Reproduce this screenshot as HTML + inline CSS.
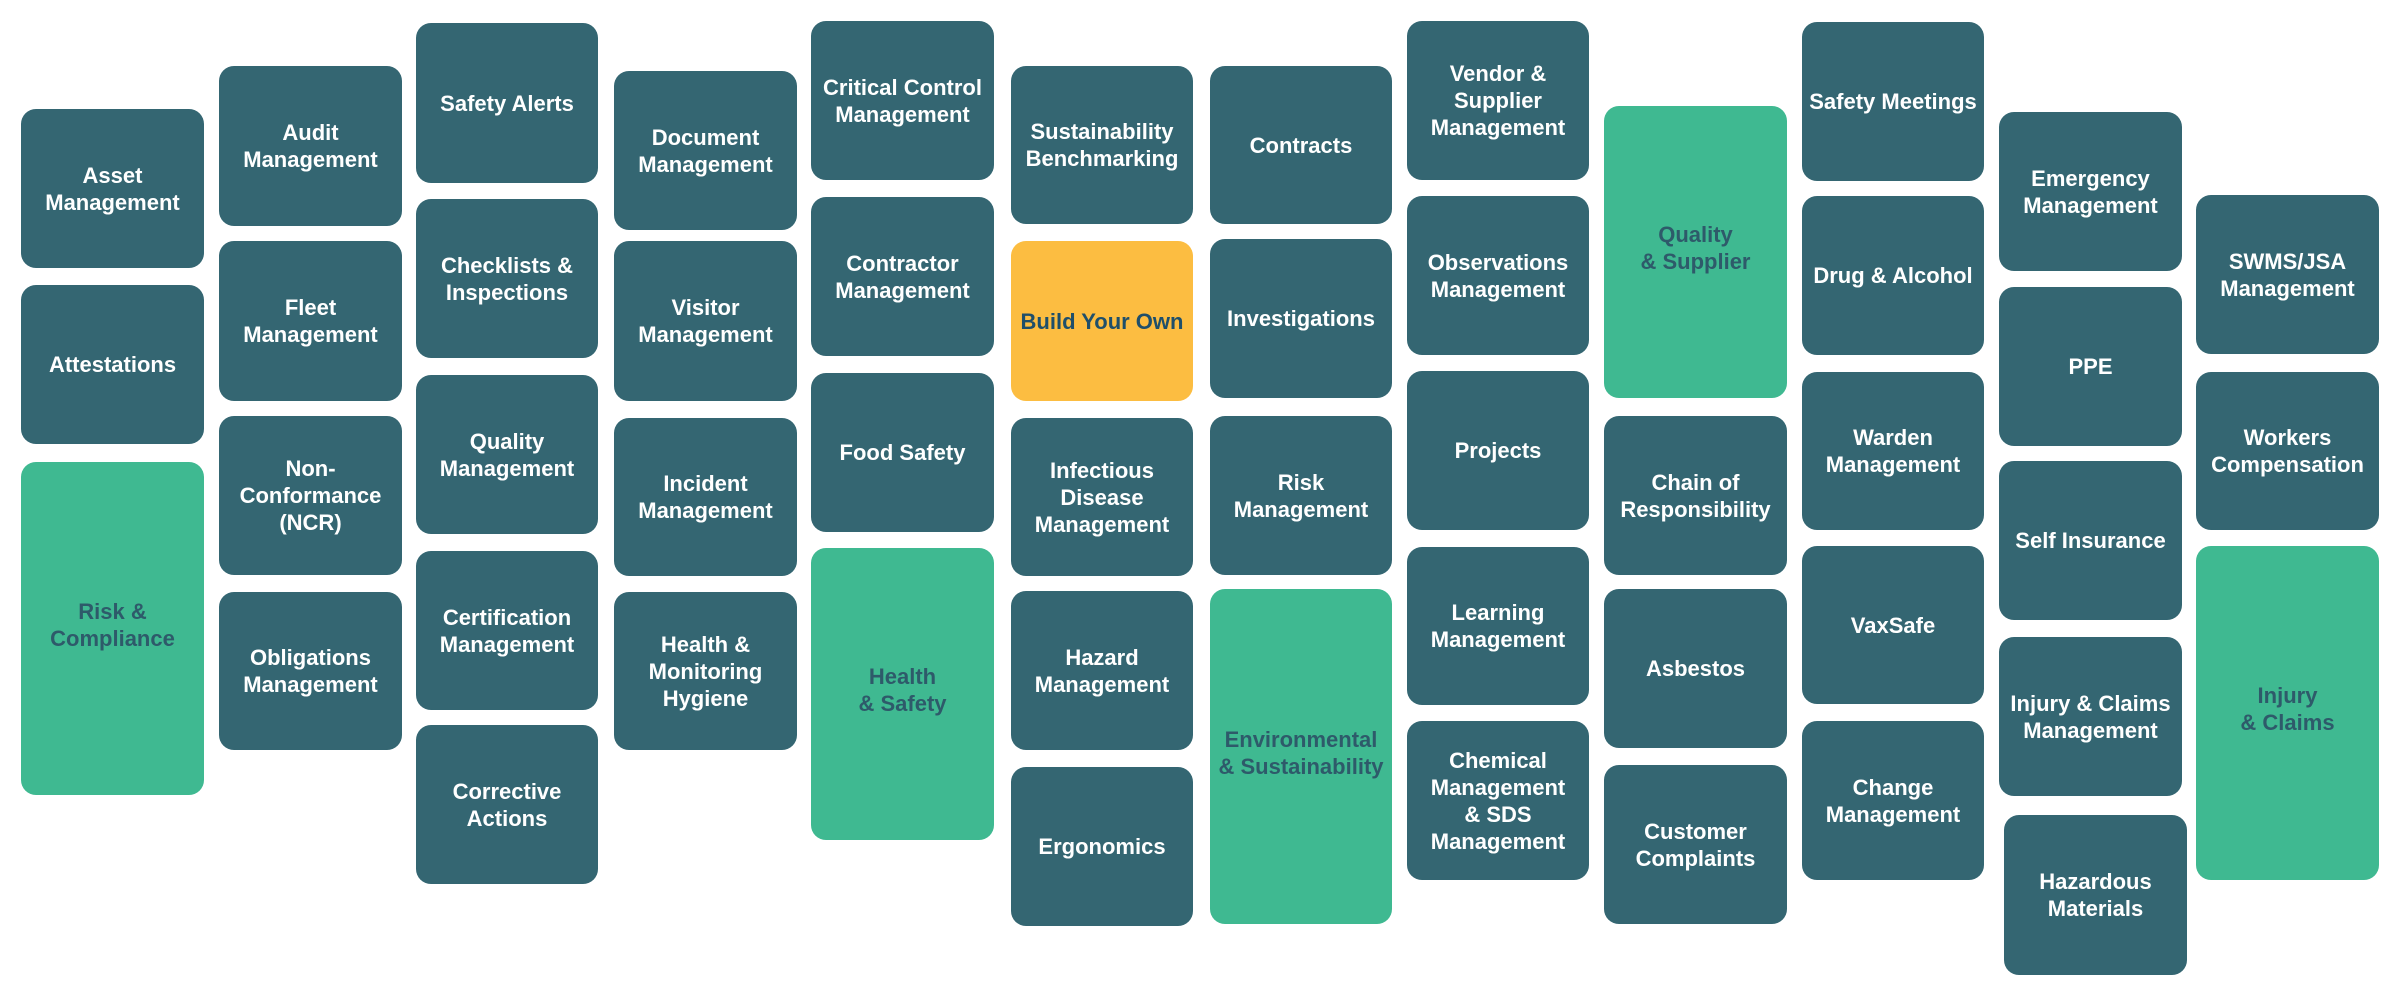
<!DOCTYPE html>
<html><head><meta charset="utf-8"><style>
html,body{margin:0;padding:0;background:#fff;}
body{width:2400px;height:988px;position:relative;overflow:hidden;font-family:"Liberation Sans",sans-serif;}
.b{position:absolute;background:#346672;border-radius:15px;display:flex;align-items:center;justify-content:center;text-align:center;color:#fff;font-weight:bold;font-size:22px;line-height:27px;box-sizing:border-box;padding:0 6px;}
.g{background:#3fb991;color:#2e5a6a;padding-bottom:8px;}
.y{background:#fcbd41;color:#1f4f6a;}
</style></head><body>
<div class="b" style="left:21px;top:109px;width:183px;height:159px">Asset<br>Management</div>
<div class="b" style="left:21px;top:285px;width:183px;height:159px">Attestations</div>
<div class="b g" style="left:21px;top:462px;width:183px;height:333px">Risk &amp;<br>Compliance</div>

<div class="b" style="left:219px;top:66px;width:183px;height:160px">Audit<br>Management</div>
<div class="b" style="left:219px;top:241px;width:183px;height:160px">Fleet<br>Management</div>
<div class="b" style="left:219px;top:416px;width:183px;height:159px">Non-<br>Conformance<br>(NCR)</div>
<div class="b" style="left:219px;top:592px;width:183px;height:158px">Obligations<br>Management</div>

<div class="b" style="left:416px;top:23px;width:182px;height:160px">Safety Alerts</div>
<div class="b" style="left:416px;top:199px;width:182px;height:159px">Checklists &amp;<br>Inspections</div>
<div class="b" style="left:416px;top:375px;width:182px;height:159px">Quality<br>Management</div>
<div class="b" style="left:416px;top:551px;width:182px;height:159px">Certification<br>Management</div>
<div class="b" style="left:416px;top:725px;width:182px;height:159px">Corrective<br>Actions</div>

<div class="b" style="left:614px;top:71px;width:183px;height:159px">Document<br>Management</div>
<div class="b" style="left:614px;top:241px;width:183px;height:160px">Visitor<br>Management</div>
<div class="b" style="left:614px;top:418px;width:183px;height:158px">Incident<br>Management</div>
<div class="b" style="left:614px;top:592px;width:183px;height:158px">Health &amp;<br>Monitoring<br>Hygiene</div>

<div class="b" style="left:811px;top:21px;width:183px;height:159px">Critical Control<br>Management</div>
<div class="b" style="left:811px;top:197px;width:183px;height:159px">Contractor<br>Management</div>
<div class="b" style="left:811px;top:373px;width:183px;height:159px">Food Safety</div>
<div class="b g" style="left:811px;top:548px;width:183px;height:292px">Health<br>&amp; Safety</div>

<div class="b" style="left:1011px;top:66px;width:182px;height:158px">Sustainability<br>Benchmarking</div>
<div class="b y" style="left:1011px;top:241px;width:182px;height:160px">Build Your Own</div>
<div class="b" style="left:1011px;top:418px;width:182px;height:158px">Infectious<br>Disease<br>Management</div>
<div class="b" style="left:1011px;top:591px;width:182px;height:159px">Hazard<br>Management</div>
<div class="b" style="left:1011px;top:767px;width:182px;height:159px">Ergonomics</div>

<div class="b" style="left:1210px;top:66px;width:182px;height:158px">Contracts</div>
<div class="b" style="left:1210px;top:239px;width:182px;height:159px">Investigations</div>
<div class="b" style="left:1210px;top:416px;width:182px;height:159px">Risk<br>Management</div>
<div class="b g" style="left:1210px;top:589px;width:182px;height:335px">Environmental<br>&amp; Sustainability</div>

<div class="b" style="left:1407px;top:21px;width:182px;height:159px">Vendor &amp;<br>Supplier<br>Management</div>
<div class="b" style="left:1407px;top:196px;width:182px;height:159px">Observations<br>Management</div>
<div class="b" style="left:1407px;top:371px;width:182px;height:159px">Projects</div>
<div class="b" style="left:1407px;top:547px;width:182px;height:158px">Learning<br>Management</div>
<div class="b" style="left:1407px;top:721px;width:182px;height:159px">Chemical<br>Management<br>&amp; SDS<br>Management</div>

<div class="b g" style="left:1604px;top:106px;width:183px;height:292px">Quality<br>&amp; Supplier</div>
<div class="b" style="left:1604px;top:416px;width:183px;height:159px">Chain of<br>Responsibility</div>
<div class="b" style="left:1604px;top:589px;width:183px;height:159px">Asbestos</div>
<div class="b" style="left:1604px;top:765px;width:183px;height:159px">Customer<br>Complaints</div>

<div class="b" style="left:1802px;top:22px;width:182px;height:159px">Safety Meetings</div>
<div class="b" style="left:1802px;top:196px;width:182px;height:159px">Drug &amp; Alcohol</div>
<div class="b" style="left:1802px;top:372px;width:182px;height:158px">Warden<br>Management</div>
<div class="b" style="left:1802px;top:546px;width:182px;height:158px">VaxSafe</div>
<div class="b" style="left:1802px;top:721px;width:182px;height:159px">Change<br>Management</div>

<div class="b" style="left:1999px;top:112px;width:183px;height:159px">Emergency<br>Management</div>
<div class="b" style="left:1999px;top:287px;width:183px;height:159px">PPE</div>
<div class="b" style="left:1999px;top:461px;width:183px;height:159px">Self Insurance</div>
<div class="b" style="left:1999px;top:637px;width:183px;height:159px">Injury &amp; Claims<br>Management</div>
<div class="b" style="left:2004px;top:815px;width:183px;height:160px">Hazardous<br>Materials</div>

<div class="b" style="left:2196px;top:195px;width:183px;height:159px">SWMS/JSA<br>Management</div>
<div class="b" style="left:2196px;top:372px;width:183px;height:158px">Workers<br>Compensation</div>
<div class="b g" style="left:2196px;top:546px;width:183px;height:334px">Injury<br>&amp; Claims</div>
</body></html>
